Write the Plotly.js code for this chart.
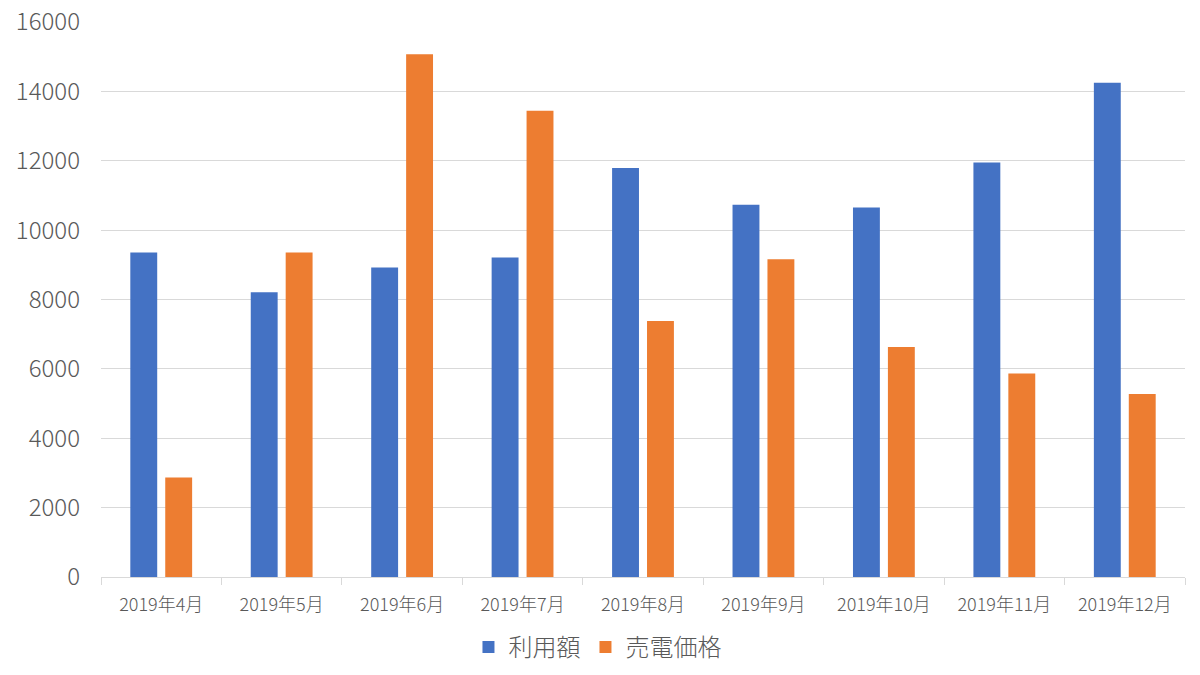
<!DOCTYPE html>
<html>
<head>
<meta charset="utf-8">
<script src="https://cdn.plot.ly/plotly-3.0.1.min.js"></script>
<style>
  html, body { margin: 0; padding: 0; background: #fff; }
  #chart { width: 1200px; height: 675px; }
</style>
</head>
<body>
<div id="chart"></div>
<script>
// categories (months)
const months = ["2019年4月", "2019年5月", "2019年6月", "2019年7月", "2019年8月",
                "2019年9月", "2019年10月", "2019年11月", "2019年12月"];

// 利用額 (usage amount)
const usage = [9357, 8211, 8924, 9212, 11789, 10730, 10655, 11953, 14250];

// 売電価格 (power sale price)
const sales = [2865, 9357, 15069, 13442, 7383, 9163, 6633, 5865, 5277];

const yTicks = [0, 2000, 4000, 6000, 8000, 10000, 12000, 14000, 16000];

const FONT = '"Noto Sans CJK JP", "Noto Sans", sans-serif';
const GREY = "#595959";

const traces = [
  { name: "利用額", x: months, y: usage, type: "bar", marker: { color: "#4472C4" } },
  { name: "売電価格", x: months, y: sales, type: "bar", marker: { color: "#ED7D31" } }
];

const layout = {
  width: 1200, height: 675,
  paper_bgcolor: "#fff", plot_bgcolor: "#fff",
  margin: { l: 101, r: 15, t: 22, b: 98, autoexpand: false },
  font: { family: FONT, color: GREY },
  barmode: "group",
  bargap: 0.42,
  bargroupgap: 0.23,
  showlegend: true,
  legend: {
    orientation: "h", x: 0.458, xanchor: "center", y: -0.127, yanchor: "middle",
    font: { size: 24, color: GREY, family: FONT, weight: 300 }
  },
  xaxis: {
    type: "category", automargin: false,
    showline: true, linecolor: "#d9d9d9", linewidth: 1,
    ticks: "outside", tickson: "boundaries", ticklen: 7, tickcolor: "#d9d9d9",
    showgrid: false,
    ticklabelstandoff: 11,
    tickfont: { size: 18, color: GREY, family: FONT, weight: 300 }
  },
  yaxis: {
    range: [0, 16000], automargin: false,
    tickvals: yTicks,
    ticktext: yTicks.map(String),
    showgrid: true, gridcolor: "#d9d9d9", gridwidth: 1,
    zeroline: false, showline: false,
    ticklabelstandoff: 20,
    tickfont: { size: 24, color: GREY, family: FONT, weight: 300 }
  }
};

Plotly.newPlot("chart", traces, layout, { displayModeBar: false, staticPlot: true });
</script>
</body>
</html>
